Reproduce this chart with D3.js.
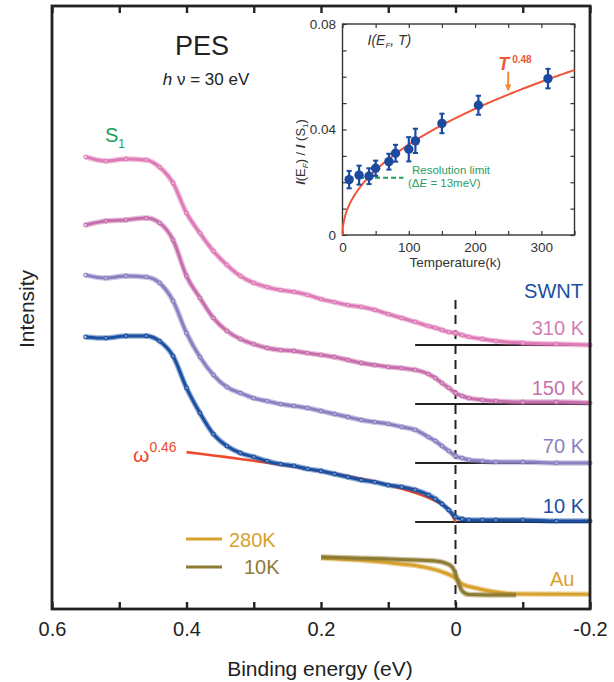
<!DOCTYPE html>
<html>
<head>
<meta charset="utf-8">
<script src="https://cdn.jsdelivr.net/npm/d3@7"></script>
<style>
body { margin: 0; background: #fff; }
text { font-family: "Liberation Sans", Arial, Helvetica, sans-serif; }
</style>
</head>
<body>
<script>
// binding energies (eV) shared by the SWNT spectra
var energies = [0.55,0.52,0.49,0.46,0.44,0.42,0.40,0.38,0.36,0.34,0.32,0.30,0.28,0.26,0.24,0.22,0.20,0.18,0.16,0.14,
  0.12,0.10,0.08,0.06,0.04,0.03,0.02,0.01,0.00,-0.01,-0.02,-0.04,-0.06,-0.10,-0.15,-0.20];

// offset spectra, arbitrary intensity units
var swnt310K = [150.7,149.3,150.0,149.7,147.3,142.0,132.0,125.3,119.3,114.7,111.0,108.7,107.3,106.3,105.7,104.7,103.3,102.3,101.3,100.7,
  99.7,98.3,97.0,95.7,94.3,93.7,93.0,92.3,92.0,91.3,90.7,90.0,89.3,88.7,88.3,88.0];
var swnt150K = [128.0,129.3,129.7,130.3,128.7,123.0,111.0,103.7,97.0,92.7,90.0,88.3,87.0,86.3,86.0,85.3,84.7,84.0,83.0,82.0,
  81.3,80.7,80.3,79.7,78.3,77.0,75.3,73.7,72.0,71.0,70.3,69.7,69.3,69.0,69.0,68.7];
var swnt70K = [111.3,110.3,111.0,110.7,108.7,102.7,92.0,84.0,78.0,74.0,72.0,70.3,69.3,68.3,67.7,67.0,66.0,65.0,64.0,63.0,
  62.3,61.7,60.7,59.7,57.3,56.0,54.3,52.7,51.0,50.3,49.7,49.3,49.0,49.0,48.7,48.7];
var swnt10K = [90.7,90.3,91.0,91.0,89.3,84.3,73.7,65.3,58.3,54.3,52.0,50.7,49.3,48.3,47.7,46.7,46.0,45.0,44.0,43.0,
  42.3,41.3,40.7,39.7,38.0,36.7,35.0,33.0,30.7,30.0,29.7,29.7,29.7,29.7,29.3,29.3];
var swntLabels = ["310 K", "150 K", "70 K", "10 K"];
var swntBaselines = [88.0, 68.3, 48.7, 29.0];

// Au reference edges
var auEnergies10K = [0.20,0.15,0.10,0.06,0.03,0.015,0.005,0.0,-0.005,-0.01,-0.02,-0.05,-0.09];
var au10K = [17.3,17.0,16.7,16.3,16.0,15.3,14.0,11.7,8.3,6.0,4.8,4.7,4.7];
var auEnergies280K = [0.20,0.13,0.08,0.05,0.02,0.0,-0.01,-0.03,-0.055,-0.09,-0.20];
var au280K = [17.0,16.1,15.0,14.1,12.4,10.3,8.3,7.0,5.8,5.0,4.9];

// power law fit to the 10 K spectrum (omega^0.46)
var omegaExponent = 0.46;
var omegaAmplitude = 35.5;
var omegaMaxEnergy = 0.40;

// inset: I(EF)/I(S1) vs temperature
var temps = [10, 25, 40, 50, 70, 80, 100, 110, 150, 205, 310];
var ratio = [0.0210, 0.0227, 0.0223, 0.0253, 0.0278, 0.0310, 0.0325, 0.0357, 0.0423, 0.0492, 0.0593];
var ratioErr = [0.0033, 0.0036, 0.0030, 0.0029, 0.0030, 0.0032, 0.0046, 0.0046, 0.0037, 0.0036, 0.0037];
var tExponent = 0.48;
var tAmplitude = 0.00376;
var resolutionLimit = 0.0217;
var resolutionRange = [25, 92];

var xTicks = [0.6, 0.5, 0.4, 0.3, 0.2, 0.1, 0, -0.1, -0.2];
var xTickLabels = {"0.6": "0.6", "0.4": "0.4", "0.2": "0.2", "0": "0", "-0.2": "-0.2"};
var insetYTicks = [0, 0.01, 0.02, 0.03, 0.04, 0.05, 0.06, 0.07, 0.08];
var insetYLabels = {"0": "0", "0.04": "0.04", "0.08": "0.08"};
var insetXTicks = [0, 50, 100, 150, 200, 250, 300, 350];
var insetXLabels = {"0": "0", "100": "100", "200": "200", "300": "300"};

var svgWidth = 614;
var svgHeight = 682;
var margin = { top: 6, right: 24, bottom: 73, left: 52 };
var width = svgWidth - margin.left - margin.right;
var height = svgHeight - margin.top - margin.bottom;

var swntColors = ["#de7bb7", "#c76fac", "#8a80c1", "#1b4fa1"];
var labelColors = ["#d67db6", "#c670ab", "#8a82c0", "#1b4fa1"];

var root = d3.select("body").append("svg")
  .attr("width", svgWidth)
  .attr("height", svgHeight);

var svg = root.append("g")
  .attr("transform", "translate(" + margin.left + "," + margin.top + ")");

var x = d3.scaleLinear().domain([0.6, -0.2]).range([0, width]);
var y = d3.scaleLinear().domain([0, 201]).range([height, 0]);

var line = d3.line()
  .x(function(d) { return x(d[0]); })
  .y(function(d) { return y(d[1]); })
  .curve(d3.curveMonotoneX);

// baselines under each SWNT spectrum
swntBaselines.forEach(function(b) {
  svg.append("line")
    .attr("x1", x(0.06)).attr("x2", x(-0.2))
    .attr("y1", y(b)).attr("y2", y(b))
    .attr("stroke", "#222").attr("stroke-width", 2);
});

// Fermi level
svg.append("line")
  .attr("x1", x(0)).attr("x2", x(0))
  .attr("y1", 294).attr("y2", height - 4)
  .attr("stroke", "#222").attr("stroke-width", 2)
  .attr("stroke-dasharray", "9,6");

function drawSpectrum(xs, ys, color, withMarkers) {
  var pts = xs.map(function(e, i) { return [e, ys[i]]; });
  svg.append("path").datum(pts)
    .attr("d", line).attr("fill", "none")
    .attr("stroke", color).attr("stroke-opacity", 0.45).attr("stroke-width", 5.5);
  svg.append("path").datum(pts)
    .attr("d", line).attr("fill", "none")
    .attr("stroke", color).attr("stroke-width", 3);
  if (withMarkers) {
    svg.append("g").selectAll("circle").data(pts).enter().append("circle")
      .attr("cx", function(d) { return x(d[0]); })
      .attr("cy", function(d) { return y(d[1]); })
      .attr("r", 1.9)
      .attr("fill", "#fff").attr("fill-opacity", 0.35)
      .attr("stroke", color).attr("stroke-width", 1.1);
  }
}

var spectra = [swnt310K, swnt150K, swnt70K];
spectra.forEach(function(s, i) { drawSpectrum(energies, s, swntColors[i], true); });

// omega^0.46 fit, drawn under the 10 K data
var fitEnergies = energies.filter(function(e) { return e <= omegaMaxEnergy && e >= 0; });
var fitPts = fitEnergies.map(function(e) {
  return [e, swntBaselines[3] + omegaAmplitude * Math.pow(e, omegaExponent)];
});
svg.append("path").datum(fitPts)
  .attr("d", line)
  .attr("fill", "none").attr("stroke", "#ee4a2c").attr("stroke-width", 2.6);

drawSpectrum(energies, swnt10K, swntColors[3], true);

// Au
drawSpectrum(auEnergies280K, au280K, "#d7a12e", false);
drawSpectrum(auEnergies10K, au10K, "#8d7b34", false);

// frame and ticks
svg.append("rect")
  .attr("width", width).attr("height", height)
  .attr("fill", "none").attr("stroke", "#222").attr("stroke-width", 2.8);

var bottomAxis = d3.axisBottom(x)
  .tickValues(xTicks)
  .tickSize(-7)
  .tickPadding(12.5)
  .tickFormat(function(d) { return xTickLabels[String(d)] || ""; });
var gb = svg.append("g")
  .attr("transform", "translate(0," + height + ")")
  .call(bottomAxis);
gb.select(".domain").remove();
gb.selectAll("line").attr("stroke", "#222").attr("stroke-width", 2.4);
gb.selectAll("text").style("font-size", "20px").attr("fill", "#222");

var topAxis = d3.axisTop(x).tickValues(xTicks).tickSize(-7).tickFormat("");
var gt = svg.append("g").call(topAxis);
gt.select(".domain").remove();
gt.selectAll("line").attr("stroke", "#222").attr("stroke-width", 2.4);

// main texts
svg.append("text")
  .attr("x", 320 - margin.left).attr("y", 676 - margin.top)
  .attr("text-anchor", "middle").style("font-size", "21px").attr("fill", "#222")
  .text("Binding energy (eV)");

root.append("text")
  .attr("transform", "translate(34,309) rotate(-90)")
  .attr("text-anchor", "middle").style("font-size", "21px").attr("fill", "#222")
  .text("Intensity");

root.append("text")
  .attr("x", 202).attr("y", 55).attr("text-anchor", "middle")
  .style("font-size", "27px").attr("fill", "#222").text("PES");

var hv = root.append("text")
  .attr("x", 206).attr("y", 85).attr("text-anchor", "middle")
  .style("font-size", "17px").attr("fill", "#222");
hv.append("tspan").style("font-style", "italic").text("h");
hv.append("tspan").text(" \u03bd = 30 eV");

var s1 = root.append("text").attr("x", 105).attr("y", 142)
  .style("font-size", "20px").attr("fill", "#1aa05a");
s1.append("tspan").text("S");
s1.append("tspan").attr("dy", 6).style("font-size", "12px").text("1");

var om = root.append("text").attr("x", 133).attr("y", 462)
  .style("font-size", "21px").attr("fill", "#ee4a2c");
om.append("tspan").text("\u03c9");
om.append("tspan").attr("dy", -10).style("font-size", "14px").text("0.46");

root.append("text").attr("x", 583).attr("y", 298).attr("text-anchor", "end")
  .style("font-size", "20px").attr("fill", "#1b4fa1").text("SWNT");

var labelY = [335, 395, 453, 513];
swntLabels.forEach(function(t, i) {
  root.append("text").attr("x", 584).attr("y", labelY[i]).attr("text-anchor", "end")
    .style("font-size", "20px").attr("fill", labelColors[i]).text(t);
});

// Au legend
root.append("line").attr("x1", 186).attr("x2", 222).attr("y1", 539).attr("y2", 539)
  .attr("stroke", "#d7a12e").attr("stroke-width", 3);
root.append("text").attr("x", 229).attr("y", 547).style("font-size", "20px")
  .attr("fill", "#d7a12e").text("280K");
root.append("line").attr("x1", 186).attr("x2", 222).attr("y1", 567).attr("y2", 567)
  .attr("stroke", "#8d7b34").attr("stroke-width", 3);
root.append("text").attr("x", 244).attr("y", 574).style("font-size", "20px")
  .attr("fill", "#8d7b34").text("10K");
root.append("text").attr("x", 550).attr("y", 586).style("font-size", "20px")
  .attr("fill", "#d7a12e").text("Au");

// ---------- inset ----------
var inset = { left: 342.5, top: 24, width: 232, height: 211 };
var gi = root.append("g").attr("transform", "translate(" + inset.left + "," + inset.top + ")");

var xT = d3.scaleLinear().domain([0, 350]).range([0, inset.width]);
var yR = d3.scaleLinear().domain([0, 0.08]).range([inset.height, 0]);

gi.append("rect").attr("width", inset.width).attr("height", inset.height)
  .attr("fill", "#fff").attr("stroke", "#333").attr("stroke-width", 1.4);

function styleInsetAxis(g) {
  g.select(".domain").remove();
  g.selectAll("line").attr("stroke", "#333").attr("stroke-width", 1.2);
  g.selectAll("text").style("font-size", "13.5px").attr("fill", "#333");
}

gi.append("g").call(d3.axisLeft(yR).tickValues(insetYTicks).tickSize(-4).tickPadding(6.5)
  .tickFormat(function(d) { return insetYLabels[String(d)] || ""; })).call(styleInsetAxis);
gi.append("g").attr("transform", "translate(" + inset.width + ",0)")
  .call(d3.axisRight(yR).tickValues(insetYTicks).tickSize(-4).tickFormat("")).call(styleInsetAxis);
gi.append("g").attr("transform", "translate(0," + inset.height + ")")
  .call(d3.axisBottom(xT).tickValues(insetXTicks).tickSize(-4).tickPadding(7.4)
  .tickFormat(function(d) { return insetXLabels[String(d)] || ""; })).call(styleInsetAxis);
gi.append("g").call(d3.axisTop(xT).tickValues(insetXTicks).tickSize(-4).tickFormat("")).call(styleInsetAxis);

// resolution limit
gi.append("line")
  .attr("x1", xT(resolutionRange[0])).attr("x2", xT(resolutionRange[1]))
  .attr("y1", yR(resolutionLimit)).attr("y2", yR(resolutionLimit))
  .attr("stroke", "#1f9e5c").attr("stroke-width", 2).attr("stroke-dasharray", "5,3");

// T^0.48 fit
var fitT = d3.range(0, 1, 0.05).concat(d3.range(1, 351, 1));
gi.append("path").datum(fitT)
  .attr("d", d3.line()
    .x(function(t) { return xT(t); })
    .y(function(t) { return yR(tAmplitude * Math.pow(t, tExponent)); }))
  .attr("fill", "none").attr("stroke", "#f0553a").attr("stroke-width", 2);

// error bars and points
var pts = gi.append("g").selectAll("g").data(temps).enter().append("g");
pts.append("line")
  .attr("x1", function(d) { return xT(d); }).attr("x2", function(d) { return xT(d); })
  .attr("y1", function(d, i) { return yR(ratio[i] - ratioErr[i]); })
  .attr("y2", function(d, i) { return yR(ratio[i] + ratioErr[i]); })
  .attr("stroke", "#1b4a9e").attr("stroke-width", 2.2);
[-1, 1].forEach(function(sgn) {
  pts.append("line")
    .attr("x1", function(d) { return xT(d) - 2.6; }).attr("x2", function(d) { return xT(d) + 2.6; })
    .attr("y1", function(d, i) { return yR(ratio[i] + sgn * ratioErr[i]); })
    .attr("y2", function(d, i) { return yR(ratio[i] + sgn * ratioErr[i]); })
    .attr("stroke", "#1b4a9e").attr("stroke-width", 2);
});
pts.append("circle")
  .attr("cx", function(d) { return xT(d); })
  .attr("cy", function(d, i) { return yR(ratio[i]); })
  .attr("r", 4.7).attr("fill", "#1b4a9e");

// inset texts
var ti = gi.append("text").attr("x", 25).attr("y", 21)
  .style("font-size", "14px").style("font-style", "italic").attr("fill", "#333");
ti.append("tspan").text("I(E");
ti.append("tspan").attr("dy", 3).style("font-size", "8px").text("F");
ti.append("tspan").attr("dy", -3).text(", T)");

var arrowT = 250;
var arrowTip = yR(tAmplitude * Math.pow(arrowT, tExponent)) - 3;
gi.append("line").attr("x1", xT(arrowT)).attr("x2", xT(arrowT))
  .attr("y1", arrowTip - 20).attr("y2", arrowTip - 5)
  .attr("stroke", "#f28a36").attr("stroke-width", 2);
gi.append("path")
  .attr("d", "M" + (xT(arrowT) - 3.2) + "," + (arrowTip - 7) + "L" + xT(arrowT) + "," + arrowTip +
    "L" + (xT(arrowT) + 3.2) + "," + (arrowTip - 7) + "Z")
  .attr("fill", "#f28a36");

var tl = gi.append("text").attr("x", xT(arrowT) - 10).attr("y", 46)
  .attr("fill", "#ee5636").style("font-weight", "bold");
tl.append("tspan").style("font-size", "18px").style("font-style", "italic").text("T");
tl.append("tspan").attr("dx", 3).attr("dy", -7).style("font-size", "10px").text("0.48");

gi.append("text").attr("x", 69.5).attr("y", 150).style("font-size", "11.5px")
  .attr("fill", "#2a9d64").text("Resolution limit");
var de = gi.append("text").attr("x", 65.5).attr("y", 163).style("font-size", "11.5px")
  .attr("fill", "#2a9d64");
de.append("tspan").text("(\u0394");
de.append("tspan").style("font-style", "italic").text("E");
de.append("tspan").text(" = 13meV)");

gi.append("text").attr("x", xT(170)).attr("y", inset.height + 32)
  .attr("text-anchor", "middle").style("font-size", "13.5px").attr("fill", "#333")
  .text("Temperature(k)");

var yl = root.append("text").attr("transform", "translate(305,152) rotate(-90)")
  .attr("text-anchor", "middle").style("font-size", "13px").attr("fill", "#333");
yl.append("tspan").style("font-weight", "bold").style("font-style", "italic").text("I");
yl.append("tspan").text("(E");
yl.append("tspan").attr("dy", 3).style("font-size", "8px").style("font-style", "italic").text("F");
yl.append("tspan").attr("dy", -3).text(") / ");
yl.append("tspan").style("font-weight", "bold").style("font-style", "italic").text("I");
yl.append("tspan").text(" (S");
yl.append("tspan").attr("dy", 3).style("font-size", "8px").text("1");
yl.append("tspan").attr("dy", -3).text(")");
</script>
</body>
</html>
